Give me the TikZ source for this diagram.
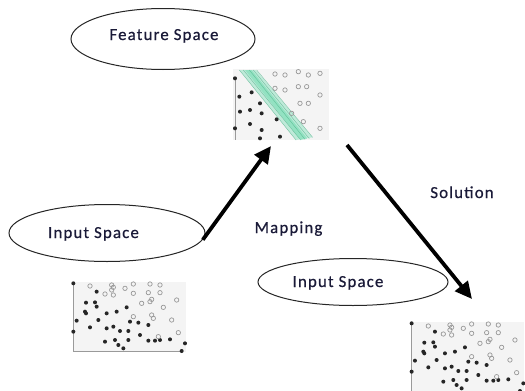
\documentclass[tikz,border=0pt]{standalone}
\usepackage{fontspec}
\setmainfont[LetterSpace=7,FakeBold=0.6]{Carlito}
\usetikzlibrary{arrows.meta,shapes.geometric}
\definecolor{txt}{HTML}{1A1A38}
\definecolor{plotbg}{HTML}{F4F4F4}
\definecolor{axisc}{HTML}{9A9A9A}
\definecolor{bandc}{HTML}{5ED9A8}
\newcommand\scatterleftdots{%
  \fill[plotbg] (40,35) rectangle (378,246);
  \draw[axisc,line width=0.8pt] (40,40) -- (40,243) -- (365,243);
  \foreach \p in {(40,40),(365,243),(110,65),(78,98),(105,97),(110,110),(75,125),(78,130),(140,130),(170,125),(200,112),(50,152),(115,150),(40,185),(90,172),(140,175),(160,170),(180,183),(205,183),(210,155),(235,158),(265,165),(240,195),(265,212),(285,212),(300,210),(330,208),(135,215),(165,210),(175,225),(190,235),(205,210),(375,220)}
    \fill[dotc] \p circle (2pt);
  \foreach \p in {(90,48),(155,45),(160,52),(135,72),(160,75),(195,55),(220,42),(220,70),(270,42),(265,68),(300,68),(300,45),(245,100),(270,95),(275,88),(310,112),(350,90),(275,135),(280,145),(335,150),(355,188),(295,200),(220,140),(155,60)}
    \draw[holec] \p circle (2.2pt);
}
\tikzset{
  x=1pt, y=-1pt,
  dotc/.style={fill=black!85},
  holec/.style={draw=black!40, line width=0.7pt},
  spaceell/.style={draw=black!85, line width=1pt, ellipse, inner sep=0pt},
  lbl/.style={text=txt, font=\fontsize{16.8}{19}\selectfont, inner sep=0pt, anchor=base},
  bigarrow/.style={line width=3.8pt, -{Triangle[length=17pt,width=16pt]}},
}
\begin{document}
\begin{tikzpicture}
\useasboundingbox (0,0) rectangle (525,391);
\fill[white] (0,0) rectangle (525,391);

% ellipses
\node[spaceell, minimum width=184pt, minimum height=61pt] (feat) at (163,39) {};
\node[lbl] (featt) at (164,40) {Feature Space};
\node[spaceell, minimum width=196pt, minimum height=57pt] (inL) at (107,233) {};
\node[lbl] (inLt) at (93.5,238) {Input Space};
\node[spaceell, minimum width=190pt, minimum height=47pt] (inR) at (353,282) {};
\node[lbl] (inRt) at (338,287) {Input Space};

\node[lbl] (map) at (288.5,233) {Mapping};
\node[lbl] (sol) at (462,198) {Solution};

% feature space plot
\begin{scope}[shift={(220,60)}, x=1pt/3, y=-1pt/3]
  \fill[plotbg] (38,28) rectangle (328,240);
  \fill[bandc, opacity=0.35] (58,30) -- (108,30) -- (278,232) -- (228,240) -- cycle;
  \fill[bandc, opacity=0.45] (75,30) -- (95,30) -- (262,236) -- (242,240) -- cycle;
  \foreach \xa/\ya/\xb/\yb in {58/30/228/240,70/30/242/240,88/30/255/238,100/30/268/236,110/30/278/232}
    \draw[bandc!80!black, line width=0.4pt, opacity=0.7] (\xa,\ya) -- (\xb,\yb);
  \draw[axisc,line width=0.8pt] (45,55) -- (45,240);
  \foreach \p in {(45,55),(95,97),(58,110),(60,155),(90,150),(125,160),(120,130),(45,205),(90,192),(125,210),(170,178),(180,230),(120,235)}
    \fill[dotc] \p circle (2pt);
  \foreach \p in {(165,42),(195,45),(235,35),(265,45),(300,40),(165,85),(195,90),(235,80),(260,80),(240,130),(265,130),(300,105),(250,185),(300,205),(215,160)}
    \draw[holec] \p circle (2.2pt);
\end{scope}

% left input plot
\begin{scope}[shift={(60,270)}, x=1pt/3, y=-1pt/3]
  \scatterleftdots
\end{scope}
% right input plot
\begin{scope}[shift={(398.3,310)}, x=1pt/3, y=-1pt/3]
  \scatterleftdots
\end{scope}

% arrows
\coordinate (m1) at (271,146);
\coordinate (s0) at (347,145);
\coordinate (s1) at (472,299);
\draw[bigarrow] (inL.-4) -- (m1);
\draw[bigarrow] (s0) -- (s1);
\end{tikzpicture}
\end{document}
